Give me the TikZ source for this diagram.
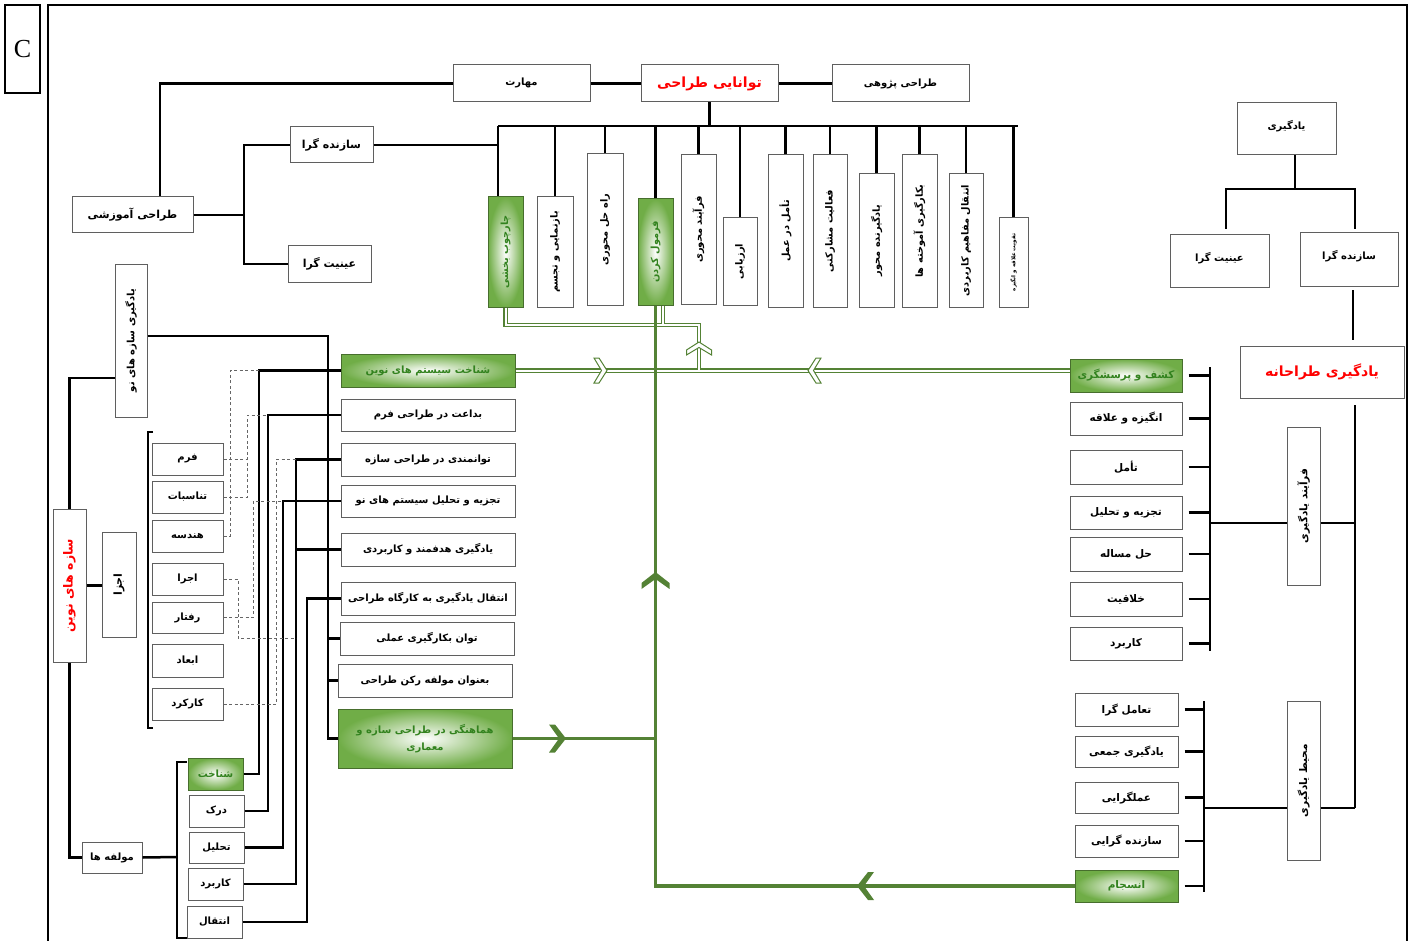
\documentclass[tikz,border=0pt]{standalone}
\usepackage{fontspec}
\usetikzlibrary{calc}
\TeXXeTstate=1
\newfontfamily\fa[Script=Arabic]{DejaVu Sans}
\newfontfamily\tms{Liberation Serif}
\newcommand{\pr}[1]{\beginR #1\endR}
\newcommand{\fntL}{\fa\bfseries\fontsize{11}{13}\selectfont}
\newcommand{\fntM}{\fa\bfseries\fontsize{10}{12}\selectfont}
\newcommand{\fntN}{\fa\bfseries\fontsize{10.5}{12}\selectfont}
\newcommand{\fntS}{\fa\bfseries\fontsize{9.8}{11}\selectfont}
\newcommand{\fntT}{\fa\bfseries\fontsize{5.5}{7}\selectfont}
\newcommand{\fntR}{\fa\bfseries\fontsize{14}{16}\selectfont}
\definecolor{G}{RGB}{84,130,53}
\definecolor{GT}{RGB}{50,130,30}
\definecolor{GB}{RGB}{112,173,71}
\definecolor{bgray}{RGB}{95,95,95}
\newcommand{\bx}[7][box]{\node[#1, minimum width={(#5-#3)*1pt}, minimum height={(#6-#4)*1pt}] (#2) at ({(#3+#5)/2},{(#4+#6)/2}) {#7};}
\newcommand{\vbx}[7][box]{\node[#1, rotate=90, minimum width={(#6-#4)*1pt}, minimum height={(#5-#3)*1pt}] (#2) at ({(#3+#5)/2},{(#4+#6)/2}) {#7};}
\tikzset{
  box/.style={draw=bgray, line width=1pt, fill=white, inner sep=1pt, font=\fntM},
  gbox/.style={box, draw=G!85!black, inner color=white, outer color=GB, text=GT},
  rbox/.style={box, font=\fntR, text=red},
  tv/.style={box, font=\fntS},
  tvg/.style={gbox, font=\fntS},
  rc/.style={box, font=\fntN},
  conn/.style={line width=2.5pt, black},
  dashl/.style={dashed, dash pattern=on 3pt off 2.5pt, black!60, line width=1pt},
  dl/.style={draw=G, line width=1.2pt, double=white, double distance=2pt},
  gl/.style={draw=G, line width=3.5pt},
  fchev/.pic={\fill[G] (-9,-14) -- (-3,-14) -- (8,0) -- (-3,14) -- (-9,14) -- (1,0) -- cycle;},
  hchev/.pic={\filldraw[fill=white, draw=G, line width=1pt] (-6,-12.5) -- (-1,-12.5) -- (7,0) -- (-1,12.5) -- (-6,12.5) -- (1.5,0) -- cycle;}
}
\begin{document}
\begin{tikzpicture}[x=1pt,y=-1pt]
\useasboundingbox (0,0) rectangle (1415,941);
% label and frame
\node[draw=black, line width=1.3pt, minimum width=35pt, minimum height=88pt, font=\tms\fontsize{26}{28}\selectfont] (C) at (22.5,49) {C};
\draw[line width=2.5pt] (48,941) -- (48,5) -- (1407,5) -- (1407,941);

% top row
\bx{mahart}{453}{65}{590}{102}{\raisebox{3pt}{\pr{مهارت}}}
\bx[rbox]{tavan}{641}{65}{778}{102}{\pr{توانایی طراحی}}
\bx{pazhuhi}{832}{65}{969}{102}{\pr{طراحی پژوهی}}

% top vertical boxes
\vbx[tvg]{chb}{488}{197}{523}{307}{\pr{چارچوب بخشی}}
\vbx[tv]{baz}{537}{197}{573}{307}{\pr{بازنمایی و تجسم}}
\vbx[tv]{rah}{587}{154}{623}{305}{\pr{راه حل محوری}}
\vbx[tvg]{formol}{638}{199}{673}{305}{\pr{فرمول کردن}}
\vbx[tv]{farm}{681}{155}{716}{304}{\pr{فرآیند محوری}}
\vbx[tv]{arz}{723}{218}{757}{305}{\pr{ارزیابی}}
\vbx[tv]{taml}{768}{155}{803}{307}{\pr{تأمل در عمل}}
\vbx[tv]{faal}{813}{155}{847}{307}{\pr{فعالیت مشارکتی}}
\vbx[tv]{ymeh}{859}{174}{894}{307}{\pr{یادگیرنده محور}}
\vbx[tv]{bekar}{902}{155}{937}{307}{\pr{بکارگیری آموخته ها}}
\vbx[tv]{entq}{949}{174}{983}{307}{\pr{انتقال مفاهیم کاربردی}}
\vbx[box, font=\fntT]{taqv}{999}{218}{1028}{307}{\pr{تقویت علاقه و انگیزه}}

% top left
\bx[box, font=\fntL]{sazL}{290}{127}{373}{163}{\pr{سازنده گرا}}
\bx[box, font=\fntL]{einL}{288}{246}{371}{282}{\pr{عینیت گرا}}
\bx[box, font=\fntL]{amuz}{72}{197}{193}{233}{\pr{طراحی آموزشی}}

% top right
\bx{yadg}{1237}{103}{1336}{155}{\raisebox{9pt}{\pr{یادگیری}}}
\bx{einR}{1170}{235}{1269}{287}{\raisebox{9pt}{\pr{عینیت گرا}}}
\bx{sazR}{1300}{233}{1398}{286}{\raisebox{9pt}{\pr{سازنده گرا}}}
\bx[rbox]{ytar}{1240}{346}{1404}{398}{\pr{یادگیری طراحانه}}

% right column
\bx[gbox, font=\fntN]{kashf}{1070}{359}{1182}{392}{\pr{کشف و پرسشگری}}
\bx[rc]{angz}{1070}{402}{1182}{435}{\pr{انگیزه و علاقه}}
\bx[rc]{tml}{1070}{450}{1182}{484}{\pr{تأمل}}
\bx[rc]{tajR}{1070}{496}{1182}{529}{\pr{تجزیه و تحلیل}}
\bx[rc]{hal}{1070}{537}{1182}{571}{\pr{حل مساله}}
\bx[rc]{khal}{1070}{582}{1182}{616}{\pr{خلاقیت}}
\bx[rc]{karbR}{1070}{627}{1182}{660}{\pr{کاربرد}}
\vbx[rc]{faray}{1287}{427}{1320}{585}{\pr{فرآیند یادگیری}}
\bx[rc]{taamg}{1075}{693}{1178}{726}{\pr{تعامل گرا}}
\bx[rc]{jamee}{1075}{736}{1178}{767}{\pr{یادگیری جمعی}}
\bx[rc]{amalg}{1075}{782}{1178}{813}{\pr{عملگرایی}}
\bx[rc]{sazgr}{1075}{825}{1178}{857}{\pr{سازنده گرایی}}
\bx[gbox, font=\fntN]{ensj}{1075}{870}{1178}{902}{\pr{انسجام}}
\vbx[rc]{mohit}{1287}{701}{1320}{860}{\pr{محیط یادگیری}}

% middle column
\bx[gbox]{shs}{341}{354}{515}{387}{\pr{شناخت سیستم های نوین}}
\bx{bdt}{341}{399}{515}{431}{\pr{بداعت در طراحی فرم}}
\bx{tvm}{341}{443}{515}{476}{\pr{توانمندی در طراحی سازه}}
\bx{tjm}{341}{485}{515}{517}{\pr{تجزیه و تحلیل سیستم های نو}}
\bx{hdf}{341}{533}{515}{566}{\pr{یادگیری هدفمند و کاربردی}}
\bx{ent}{341}{582}{515}{615}{\pr{انتقال یادگیری به کارگاه طراحی}}
\bx{bkg}{340}{622}{514}{655}{\pr{توان بکارگیری عملی}}
\bx{bnv}{338}{664}{512}{697}{\pr{بعنوان مولفه رکن طراحی}}
\bx[gbox, align=center]{hmh}{338}{709}{512}{768}{\pr{هماهنگی در طراحی سازه و}\\[5pt]\pr{معماری}}

% left side
\vbx{ysz}{115}{264}{147}{417}{\pr{یادگیری سازه های نو}}
\vbx[rbox, font=\fa\bfseries\fontsize{12.5}{14}\selectfont]{sazn}{53}{509}{86}{662}{\pr{سازه های نوین}}
\vbx[box, font=\fntL]{ajza}{102}{532}{136}{637}{\pr{اجزا}}
\bx{form}{152}{443}{223}{475}{\pr{فرم}}
\bx{tnsb}{152}{481}{223}{513}{\pr{تناسبات}}
\bx{hnds}{152}{520}{223}{552}{\pr{هندسه}}
\bx{ejra}{152}{563}{223}{595}{\pr{اجرا}}
\bx{rftr}{152}{602}{223}{633}{\pr{رفتار}}
\bx{abad}{152}{644}{223}{677}{\pr{ابعاد}}
\bx{krkd}{152}{688}{223}{720}{\pr{کارکرد}}
\bx{mlf}{82}{842}{142}{873}{\pr{مولفه ها}}
\bx[gbox]{shn}{188}{758}{243}{790}{\pr{شناخت}}
\bx{drk}{189}{795}{244}{827}{\pr{درک}}
\bx{thl}{189}{832}{244}{863}{\pr{تحلیل}}
\bx{krb}{188}{868}{243}{900}{\pr{کاربرد}}
\bx{entB}{187}{906}{242}{938}{\pr{انتقال}}

% ---------- connectors: top
\coordinate (busL) at (498,126);
\coordinate (busR) at (1018,126);
\draw[conn] (mahart.west) -| ([xshift=27.5pt]amuz.north);
\draw[conn] (mahart) -- (tavan);
\draw[conn] (tavan) -- (pazhuhi);
\draw[conn] (busL) -- (busR);
\draw[conn] (tavan.south) -- (tavan.south |- busL);
\draw[conn] (busL) -- (busL |- chb.east);
\foreach \n in {baz,rah,formol,farm,arz,taml,faal,ymeh,bekar,entq,taqv}
  \draw[conn] (\n.east) -- (\n.east |- busL);
% top left
\coordinate (jA) at (244,215);
\draw[conn] (amuz.east) -- (jA);
\draw[conn] (sazL.west) -| (jA) |- (einL.west);
\draw[conn] (sazL.east) -- (sazL.east -| busL);
% top right
\coordinate (jB) at (1295,189);
\coordinate (eR) at (1226,229);
\coordinate (sR) at (1355,229);
\draw[conn] (jB |- yadg.south) -- (jB);
\draw[conn] (eR) -- (eR |- jB) -- (sR |- jB) -- (sR);
\coordinate (sz1) at (1353,290);
\draw[conn] (sz1) -- ($(sz1 |- ytar.north)+(0,-6)$);
\coordinate (rv1) at (1355,405);
\coordinate (rv2) at (1355,808);
\draw[conn] (rv1) -- (rv2);
% right bus 1
\coordinate (b1t) at (1210,367);
\coordinate (b1b) at (1210,651);
\draw[conn] (b1t) -- (b1b);
\foreach \n in {kashf,angz,tml,tajR,hal,khal,karbR}
  \draw[conn] ([xshift=6pt]\n.east) -- (\n.east -| b1t);
\coordinate (fl) at (1210,523);
\draw[conn] (fl) -- (fl -| faray.north);
\draw[conn] (fl -| faray.south) -- (fl -| rv1);
% right bus 2
\coordinate (b2t) at (1204,701);
\coordinate (b2b) at (1204,892);
\draw[conn] (b2t) -- (b2b);
\foreach \n in {taamg,jamee,amalg,sazgr,ensj}
  \draw[conn] ([xshift=6pt]\n.east) -- (\n.east -| b2t);
\coordinate (ml) at (1204,808);
\draw[conn] (ml) -- (ml -| mohit.north);
\draw[conn] (ml -| mohit.south) -- (rv2);

% middle bracket
\coordinate (mbt) at (328,336);
\draw[conn] (ysz.south |- mbt) -| (hmh.west -| mbt) -- (hmh.west);
\foreach \n in {shs,bdt,tvm,tjm,hdf,ent,bkg,bnv}
  \draw[conn] (\n.west -| mbt) -- (\n.west);
% left structure
\coordinate (lv) at (66,378);
\draw[conn] (lv -| ysz.north) -| (sazn.east);
\draw[conn] (sazn.south) -- (sazn.south -| ajza.north);
\draw[conn] (sazn.west) |- (mlf.west);
\draw[conn] (153,432) -- (148,432) -- (148,728) -- (153,728);
\coordinate (br3) at (177,857);
\draw[conn] (mlf.east) -- (br3);
\draw[conn] (187,762) -- (177,762) -- (177,938) -- (187,938);
% solid links from components
\coordinate (xs1) at (259,0);
\coordinate (xs2) at (268,0);
\coordinate (xs3) at (283,0);
\coordinate (xs4) at (296,0);
\coordinate (xs5) at (307,0);
\draw[conn] (shn.east) -- (shn.east -| xs1) -- (xs1 |- shs.west) -- (shs.west);
\draw[conn] (drk.east) -- (drk.east -| xs2) -- (xs2 |- bdt.west) -- (bdt.west);
\draw[conn] (thl.east) -- (thl.east -| xs3) -- (xs3 |- tjm.west) -- (tjm.west);
\draw[conn] (krb.east) -- (krb.east -| xs4) -- (xs4 |- tvm.west) -- (tvm.west);
\draw[conn] (xs4 |- hdf.west) -- (hdf.west);
\draw[conn] (entB.east) -- (entB.east -| xs5) -- (xs5 |- ent.west) -- (ent.west);
% dashed links
\coordinate (xa) at (230,0);
\coordinate (xb) at (247,0);
\coordinate (xc) at (253,0);
\coordinate (xd) at (238,0);
\coordinate (xe) at (276,0);
\draw[dashl] (hnds.east) -- (hnds.east -| xa) -- (xa |- shs.west) -- (xs1 |- shs.west);
\draw[dashl] (form.east) -- (form.east -| xb);
\draw[dashl] (tnsb.east) -- (tnsb.east -| xb) -- (xb |- bdt.west) -- (xs2 |- bdt.west);
\draw[dashl] (rftr.east) -- (rftr.east -| xc) -- (xc |- tjm.west) -- (xs3 |- tjm.west);
\draw[dashl] (ejra.east) -- (ejra.east -| xd) -- (xd |- bkg.west) -- (xs4 |- bkg.west);
\draw[dashl] (krkd.east) -- (krkd.east -| xe) -- (xe |- tvm.west) -- (xs4 |- tvm.west);

% ---------- green flows
\coordinate (dj) at (699,325);
\draw[dl] (chb.west) |- (dj) -- (dj |- shs.east)
          (shs.east) -- (shs.east -| kashf.west)
          ($(formol.west)+(7.5,0)$) -- ++(0,20);
\pic[rotate=0] at (600,370.5) {hchev};
\pic[rotate=180] at (815,370.5) {hchev};
\pic[rotate=90] at (699,349) {hchev};
\draw[gl] (ensj.west) -| (formol.west);
\draw[gl] (hmh.east) -- (hmh.east -| formol.west);
\pic[rotate=90] at (655.5,580) {fchev};
\pic[rotate=0] at (558,738.5) {fchev};
\pic[rotate=180] at (865,886) {fchev};
\end{tikzpicture}
\end{document}
